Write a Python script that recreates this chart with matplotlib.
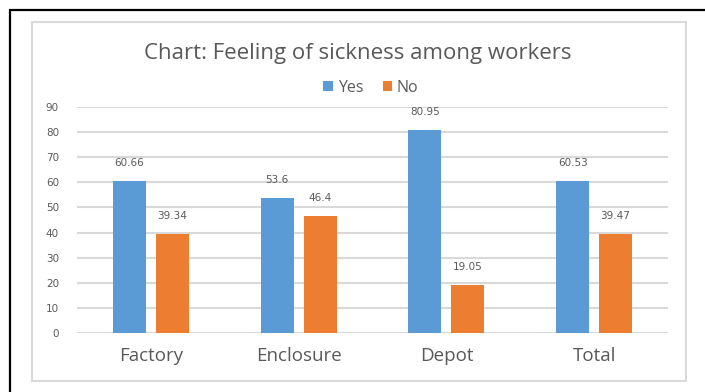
import numpy as np
import matplotlib.pyplot as plt
from matplotlib.patches import Rectangle

categories = ["Factory", "Enclosure", "Depot", "Total"]
yes_vals = [60.66, 53.6, 80.95, 60.53]
no_vals = [39.34, 46.4, 19.05, 39.47]
yes_labels = ["60.66", "53.6", "80.95", "60.53"]
no_labels = ["39.34", "46.4", "19.05", "39.47"]

BLUE = "#5B9BD5"
ORANGE = "#ED7D31"
TXT = "#595959"

plt.rcParams['font.family'] = ['Open Sans', 'DejaVu Sans']

W, H = 705, 392
fig = plt.figure(figsize=(W / 100, H / 100), dpi=100)

# outer black frame (runs off the right and bottom edges) and grey chart border
fig.patches.append(Rectangle((10 / W, -0.05), 1.0, 1 - 10 / H + 0.05,
                             transform=fig.transFigure, fill=False,
                             edgecolor="black", linewidth=1.6))
fig.patches.append(Rectangle((32 / W, 1 - 381 / H), (686 - 32) / W, (381 - 22) / H,
                             transform=fig.transFigure, fill=False,
                             edgecolor="#D9D9D9", linewidth=1.5))

ax = fig.add_axes([77 / W, 1 - 333 / H, (668 - 77) / W, (333 - 107) / H])
x = np.arange(len(categories))
w = 0.223
gap = 0.067
b1 = ax.bar(x - (w + gap) / 2, yes_vals, w, color=BLUE, label="Yes", zorder=3)
b2 = ax.bar(x + (w + gap) / 2, no_vals, w, color=ORANGE, label="No", zorder=3)

for bars, labs in ((b1, yes_labels), (b2, no_labels)):
    for bar, lab in zip(bars, labs):
        ax.annotate(lab, (bar.get_x() + bar.get_width() / 2, bar.get_height()),
                    xytext=(0, 13), textcoords="offset points",
                    ha="center", va="center", fontsize=7.5, color=TXT,
                    family="DejaVu Sans")

ax.set_xlim(-0.5, len(categories) - 0.5)
ax.set_ylim(0, 90)
ax.set_yticks(range(0, 91, 10))
ax.set_xticks(x)
ax.set_xticklabels(categories, fontsize=13.5, color=TXT)
ax.tick_params(axis="x", length=0, pad=10)
ax.tick_params(axis="y", length=0, pad=13, labelsize=7.5, labelcolor=TXT)
for lbl in ax.get_yticklabels():
    lbl.set_family("DejaVu Sans")
ax.grid(axis="y", color="#D9D9D9", linewidth=1.5, zorder=0)
for s in ax.spines.values():
    s.set_visible(False)

fig.text(358 / W, 1 - 53 / H, "Chart: Feeling of sickness among workers",
         ha="center", va="center", fontsize=16, color=TXT)
fig.legend(loc="center", bbox_to_anchor=(371 / W, 1 - 88 / H), ncol=2,
           frameon=False, fontsize=11.5, labelcolor=TXT, handlelength=0.6,
           handleheight=0.6, handletextpad=0.3, columnspacing=1.2)

fig.savefig("out.png", dpi=100)
